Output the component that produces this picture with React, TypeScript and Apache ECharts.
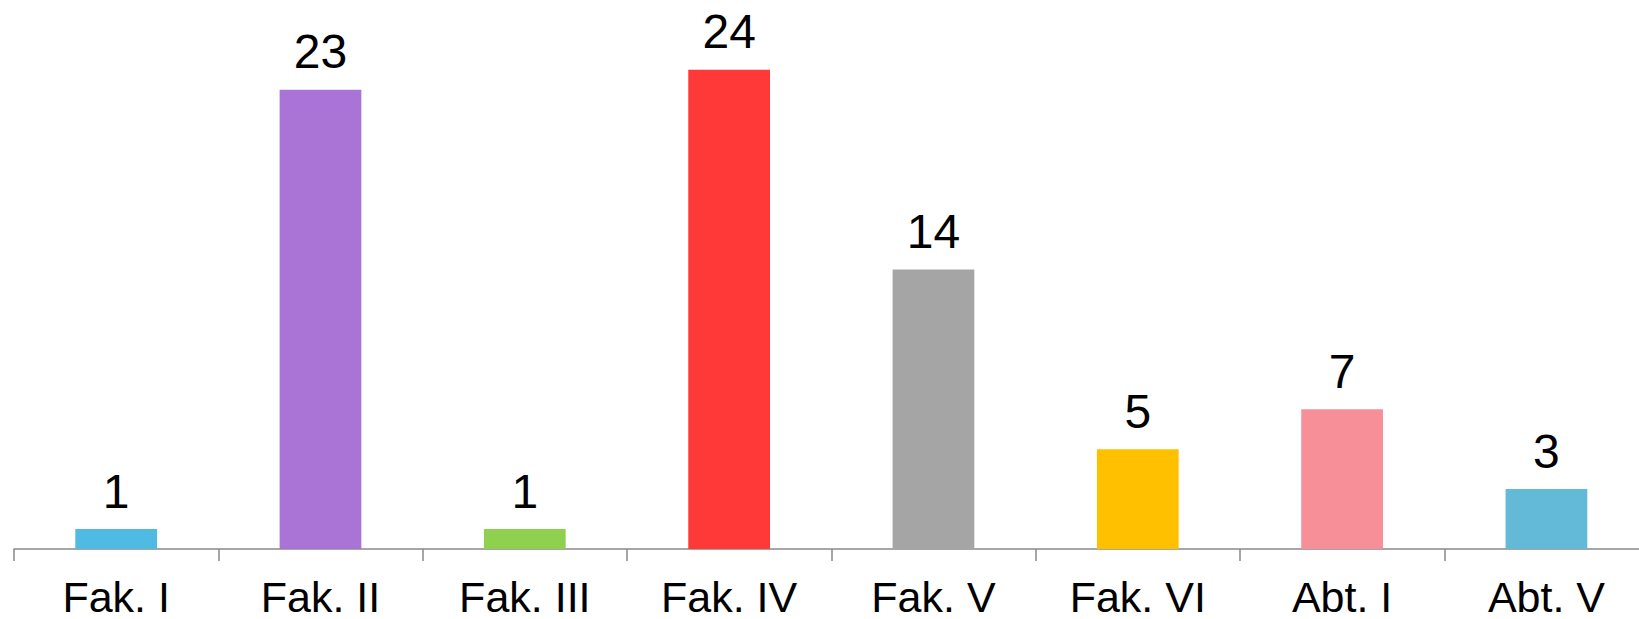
import React, { useEffect, useRef } from "react";
import * as echarts from "echarts";

const categories = ["Fak. I", "Fak. II", "Fak. III", "Fak. IV", "Fak. V", "Fak. VI", "Abt. I", "Abt. V"];
const values = [1, 23, 1, 24, 14, 5, 7, 3];
const barColors = ["#4FBBE2", "#A974D6", "#8FD14F", "#FF3838", "#A5A5A5", "#FFC000", "#F78F98", "#63B9D8"];

export default function App() {
  const ref = useRef<HTMLDivElement>(null);
  useEffect(() => {
    if (!ref.current) return;
    const chart = echarts.init(ref.current, undefined, { renderer: "svg" });
    chart.setOption({
      animation: false,
      backgroundColor: "#ffffff",
      textStyle: { fontFamily: "Liberation Sans, Arial, sans-serif" },
      grid: { left: 14, top: 0, width: 1634.6, height: 549, outerBoundsMode: "none", containLabel: false },
      xAxis: {
        type: "category",
        data: categories,
        boundaryGap: true,
        axisLine: { show: true, lineStyle: { color: "#898989", width: 1.5 } },
        axisTick: { show: true, length: 12, alignWithLabel: false, lineStyle: { color: "#898989", width: 1.5 } },
        axisLabel: {
          color: "#000000",
          fontSize: 43,
          lineHeight: 30,
          margin: 33,
          interval: 0,
          fontFamily: "Liberation Sans, Arial, sans-serif",
        },
        splitLine: { show: false },
      },
      yAxis: {
        type: "value",
        min: 0,
        max: 27.5,
        show: false,
        splitLine: { show: false },
      },
      series: [
        {
          type: "bar",
          barWidth: "40%",
          data: values.map((v, i) => ({ value: v, itemStyle: { color: barColors[i] } })),
          label: {
            show: true,
            position: "top",
            distance: 14,
            color: "#000000",
            fontSize: 48,
            fontFamily: "Liberation Sans, Arial, sans-serif",
          },
        },
      ],
    });
    return () => chart.dispose();
  }, []);
  return (
    <div
      ref={ref}
      style={{ position: "fixed", left: 0, top: 0, width: 1670, height: 619, background: "#fff" }}
    />
  );
}
